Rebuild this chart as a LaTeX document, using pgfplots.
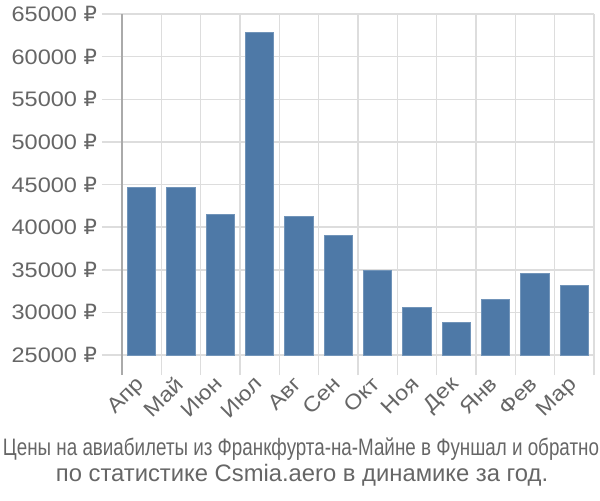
\documentclass[border=0pt]{standalone}
\usepackage{pgfplots}
\pgfplotsset{compat=1.18}
\usepackage{fontspec}
\setmainfont{Liberation Sans}
\newfontfamily\wide[FakeStretch=1.12]{Liberation Sans}
\newfontfamily\djv[FakeStretch=1.0]{DejaVu Sans}
\newcommand{\rub}{{\djv ₽}}
\definecolor{barc}{HTML}{4E79A7}
\definecolor{gridc}{HTML}{DDDDDD}
\definecolor{axc}{HTML}{AAAAAA}
\definecolor{txt}{HTML}{666666}
\begin{document}
\begin{tikzpicture}[x=1pt,y=1pt]
\useasboundingbox (0,0) rectangle (300,250);
\begin{axis}[
  at={(61pt,72.5pt)}, anchor=south west,
  scale only axis, width=236pt, height=170.5pt,
  xmin=-0.5, xmax=11.5, ymin=25000, ymax=65000,
  scaled y ticks=false,
  ytick={25000,30000,...,65000},
  yticklabels={25000 \rub,30000 \rub,35000 \rub,40000 \rub,45000 \rub,50000 \rub,55000 \rub,60000 \rub,65000 \rub},
  xtick={0,...,11},
  xticklabels={Апр,Май,Июн,Июл,Авг,Сен,Окт,Ноя,Дек,Янв,Фев,Мар},
  minor xtick={-0.5,0.5,...,11.5},
  xminorgrids, ymajorgrids,
  grid style={gridc, line width=0.75pt},
  axis line style={draw=none},
  tick align=outside,
  xtick pos=bottom, ytick pos=left,
  major x tick style={draw=none},
  minor x tick style={gridc, line width=0.75pt},
  major y tick style={gridc, line width=0.75pt},
  major tick length=10pt, minor tick length=10pt,
  ticklabel style={font=\wide\fontsize{10.5}{12}\selectfont, text=txt},
  yticklabel style={anchor=east, xshift=1pt},
  xticklabel style={rotate=45, anchor=north east, yshift=6pt, xshift=1pt},
  /pgf/number format/assume math mode=true,
  clip=false,
]
\addplot[ybar, bar width=0.72, fill=barc, draw=barc!80!white, line width=0.4pt] coordinates {
(0,44660) (1,44660) (2,41440) (3,62880) (4,41250) (5,39010)
(6,34900) (7,30580) (8,28820) (9,31490) (10,34580) (11,33170)};
\draw[axc, line width=0.75pt] (rel axis cs:0,1) -- ([yshift=-10pt]rel axis cs:0,0);
\end{axis}
\node[anchor=base, text=txt, inner sep=0pt, font=\fontsize{11.9}{13}\selectfont] at (150.5,22.5) {\resizebox{298pt}{\height}{Цены на авиабилеты из Франкфурта-на-Майне в Фуншал и обратно}};
\node[anchor=base, text=txt, inner sep=0pt, font=\fontsize{11.9}{13}\selectfont] at (151,9.2) {по статистике Csmia.aero в динамике за год.};
\end{tikzpicture}
\end{document}
